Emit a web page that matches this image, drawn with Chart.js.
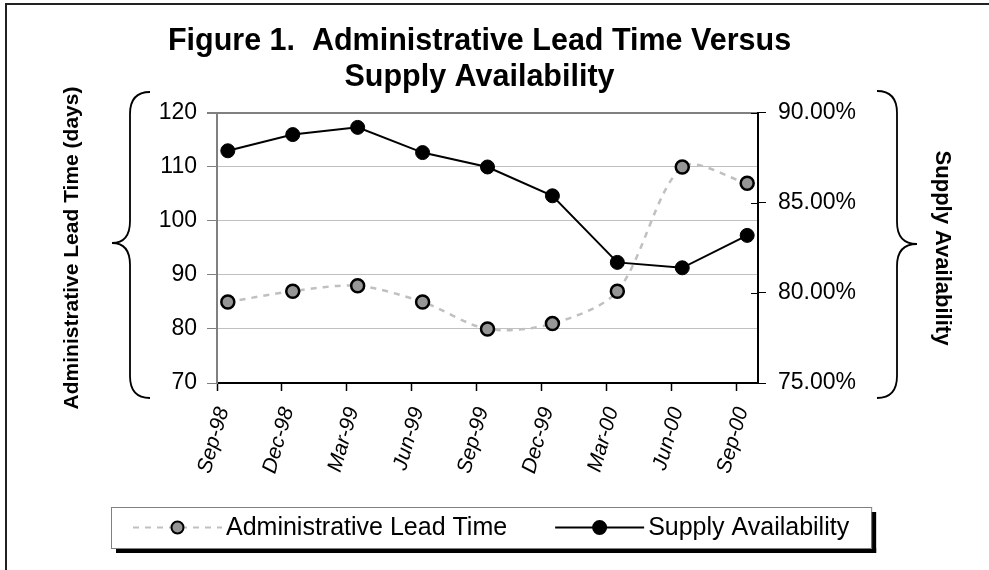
<!DOCTYPE html>
<html>
<head>
<meta charset="utf-8">
<title>Figure 1. Administrative Lead Time Versus Supply Availability</title>
<script src="https://cdn.jsdelivr.net/npm/chart.js@4.4.0/dist/chart.umd.min.js"></script>
<style>
  html, body { margin: 0; padding: 0; background: #fff; }
</style>
</head>
<body>
<canvas id="leadTimeChart" width="989" height="570"></canvas>
<script>
// quarterly observations, Sep-98 .. Sep-00
const quarters = ['Sep-98', 'Dec-98', 'Mar-99', 'Jun-99', 'Sep-99', 'Dec-99', 'Mar-00', 'Jun-00', 'Sep-00']
const leadTimeDays = [85, 87, 88, 85, 80, 81, 87, 110, 107]
const supplyAvailability = [87.9, 88.8, 89.2, 87.8, 87.0, 85.4, 81.7, 81.4, 83.2]   // percent
const leadTimeRange = [70, 120]
const availabilityRange = [75, 90]

const FONT = '"Liberation Sans", Arial, sans-serif'
const monthNames = ['Jan', 'Feb', 'Mar', 'Apr', 'May', 'Jun', 'Jul', 'Aug', 'Sep', 'Oct', 'Nov', 'Dec']

// months since year 0 for labels like 'Sep-98'
function monthNumber(label) {
    let parts = label.split('-')
    let yy = Number(parts[1])
    let year = yy < 50 ? 2000 + yy : 1900 + yy
    return year * 12 + monthNames.indexOf(parts[0])
}

// excel style date axis: one slot per month, points sit in the middle of their month
const firstMonth = monthNumber(quarters[0])
const monthOffsets = quarters.map(q => monthNumber(q) - firstMonth)
const axisMonths = monthOffsets[monthOffsets.length - 1] + 1

function quarterLabel(value) {
    let i = monthOffsets.indexOf(value)
    return i >= 0 ? quarters[i] : ''
}

function drawBrace(ctx, endX, spineX, tipX, top, mid, bottom) {
    const r = 22
    ctx.beginPath()
    ctx.moveTo(endX, top)
    ctx.quadraticCurveTo(spineX, top, spineX, top + r)
    ctx.lineTo(spineX, mid - r)
    ctx.quadraticCurveTo(spineX, mid, tipX, mid)
    ctx.quadraticCurveTo(spineX, mid, spineX, mid + r)
    ctx.lineTo(spineX, bottom - r)
    ctx.quadraticCurveTo(spineX, bottom, endX, bottom)
    ctx.stroke()
}

// legend in a framed box with a drop shadow, the way excel draws it
function drawLegend(chart) {
    const ctx = chart.ctx
    const area = chart.chartArea
    const sets = chart.data.datasets
    const symbolW = 89, textGap = 4, itemGap = 48, padX = 22
    ctx.font = '25px ' + FONT
    const widths = sets.map(ds => ctx.measureText(ds.label).width)
    const content = sets.length * (symbolW + textGap) + widths.reduce((a, b) => a + b, 0) + itemGap * (sets.length - 1)
    const frameW = content + padX * 2
    const frameH = 41
    const left = Math.round((area.left + area.right) / 2 + 4 - frameW / 2)
    const top = Math.round(area.bottom + 124)
    const cy = top + frameH / 2

    ctx.fillStyle = '#000'
    ctx.fillRect(left + 5, top + frameH, frameW, 5)
    ctx.fillRect(left + frameW, top + 5, 5, frameH)
    ctx.strokeStyle = '#808080'
    ctx.lineWidth = 1
    ctx.strokeRect(left + 0.5, top + 0.5, frameW, frameH)

    let x = left + padX
    sets.forEach((ds, i) => {
        ctx.beginPath()
        ctx.moveTo(x, cy)
        ctx.lineTo(x + symbolW, cy)
        ctx.setLineDash(ds.borderDash || [])
        ctx.strokeStyle = ds.borderColor
        ctx.lineWidth = 2
        ctx.stroke()
        ctx.setLineDash([])
        ctx.beginPath()
        ctx.arc(x + symbolW / 2, cy, ds.pointRadius - 0.5, 0, Math.PI * 2)
        ctx.fillStyle = ds.pointBackgroundColor
        ctx.fill()
        ctx.strokeStyle = ds.pointBorderColor
        ctx.lineWidth = 2
        ctx.stroke()

        ctx.fillStyle = '#000'
        ctx.textAlign = 'left'
        ctx.textBaseline = 'middle'
        ctx.fillText(ds.label, x + symbolW + textGap, cy + 1)
        x += symbolW + textGap + widths[i] + itemGap
    })
}

// white page, outer frame, braces round the axis titles, legend
const decorations = {
    id: 'decorations',
    beforeDraw(chart) {
        const ctx = chart.ctx
        ctx.save()
        ctx.fillStyle = '#fff'
        ctx.fillRect(0, 0, chart.width, chart.height)
        ctx.restore()
    },
    afterDraw(chart) {
        const ctx = chart.ctx
        const area = chart.chartArea
        ctx.save()
        ctx.strokeStyle = '#222'
        ctx.lineWidth = 2
        ctx.beginPath()
        ctx.moveTo(6, chart.height)
        ctx.lineTo(6, 4)
        ctx.lineTo(chart.width, 4)
        ctx.stroke()

        // right axis tick marks cross the axis line
        const y1 = chart.scales.y1
        ctx.strokeStyle = '#000'
        ctx.lineWidth = 1
        y1.ticks.forEach(t => {
            const py = Math.round(y1.getPixelForValue(t.value)) + 0.5
            ctx.beginPath()
            ctx.moveTo(area.right - 7, py)
            ctx.lineTo(area.right, py)
            ctx.stroke()
        })

        ctx.lineWidth = 1.8
        drawBrace(ctx, area.left - 67, area.left - 87, area.left - 105, area.top - 21, area.top + 130, area.bottom + 15)
        drawBrace(ctx, area.right + 119, area.right + 139, area.right + 159, area.top - 22, area.top + 131, area.bottom + 15)

        drawLegend(chart)
        ctx.restore()
    }
}

const canvas = document.getElementById('leadTimeChart')
new Chart(canvas, {
    type: 'line',
    data: {
        datasets: [{
            label: 'Administrative Lead Time',
            data: quarters.map((q, i) => ({ x: monthOffsets[i] + 0.5, y: leadTimeDays[i] })),
            yAxisID: 'y',
            borderColor: '#c0c0c0',
            borderWidth: 2.5,
            borderDash: [6, 6],
            tension: 0.3,
            pointRadius: 6.5,
            pointBackgroundColor: '#969696',
            pointBorderColor: '#000',
            pointBorderWidth: 2.5
        }, {
            label: 'Supply Availability',
            data: quarters.map((q, i) => ({ x: monthOffsets[i] + 0.5, y: supplyAvailability[i] })),
            yAxisID: 'y1',
            borderColor: '#000',
            borderWidth: 2,
            tension: 0,
            pointRadius: 7,
            pointBackgroundColor: '#000',
            pointBorderColor: '#000',
            pointBorderWidth: 1
        }]
    },
    options: {
        responsive: false,
        animation: false,
        devicePixelRatio: 1,
        layout: { padding: { top: 0, left: 0, right: 30, bottom: 92 } },
        plugins: {
            tooltip: { enabled: false },
            legend: { display: false },
            title: {
                display: true,
                text: ['Figure 1.  Administrative Lead Time Versus', 'Supply Availability'],
                color: '#000',
                font: { family: FONT, size: 30.5, weight: 'bold', lineHeight: 1.18 },
                padding: { top: 24, bottom: 17 }
            }
        },
        scales: {
            x: {
                type: 'linear',
                min: 0,
                max: axisMonths,
                afterBuildTicks: function(scale) {
                    scale.ticks = monthOffsets.map(v => ({ value: v }))
                },
                afterFit: function(scale) { scale.height = 95 },
                ticks: {
                    autoSkip: false,
                    minRotation: 74,
                    maxRotation: 74,
                    padding: 9,
                    labelOffset: 6,
                    color: '#000',
                    font: { family: FONT, size: 21, style: 'italic', lineHeight: 2.7 },
                    callback: value => quarterLabel(value)
                },
                grid: { drawOnChartArea: false, tickLength: 8, tickColor: '#000', tickWidth: 1.5 },
                border: { color: '#000', width: 2 }
            },
            y: {
                position: 'left',
                min: leadTimeRange[0],
                max: leadTimeRange[1],
                afterFit: function(scale) { scale.width = 217 },
                ticks: {
                    stepSize: 10,
                    padding: 10,
                    color: '#000',
                    font: { family: FONT, size: 23 }
                },
                grid: {
                    color: ctx => ctx.tick && ctx.tick.value == leadTimeRange[1] ? '#808080' : '#c0c0c0',
                    lineWidth: ctx => ctx.tick && ctx.tick.value == leadTimeRange[1] ? 2 : 1,
                    tickColor: '#808080',
                    tickLength: 10
                },
                border: { color: '#808080', width: 2 },
                title: {
                    display: true,
                    text: 'Administrative Lead Time (days)',
                    color: '#000',
                    font: { family: FONT, size: 21, weight: 'bold' },
                    padding: { top: 60, bottom: 0 }
                }
            },
            y1: {
                position: 'right',
                min: availabilityRange[0],
                max: availabilityRange[1],
                afterFit: function(scale) { scale.width = 201 },
                ticks: {
                    stepSize: 5,
                    padding: 12,
                    color: '#000',
                    font: { family: FONT, size: 23 },
                    callback: value => value.toFixed(2) + '%'
                },
                grid: { drawOnChartArea: false, tickLength: 8, tickColor: '#000' },
                border: { color: '#000', width: 2 },
                title: {
                    display: true,
                    text: 'Supply Availability',
                    color: '#000',
                    font: { family: FONT, size: 22, weight: 'bold' },
                    padding: { top: 4, bottom: 0 }
                }
            }
        }
    },
    plugins: [decorations]
})
</script>
</body>
</html>
